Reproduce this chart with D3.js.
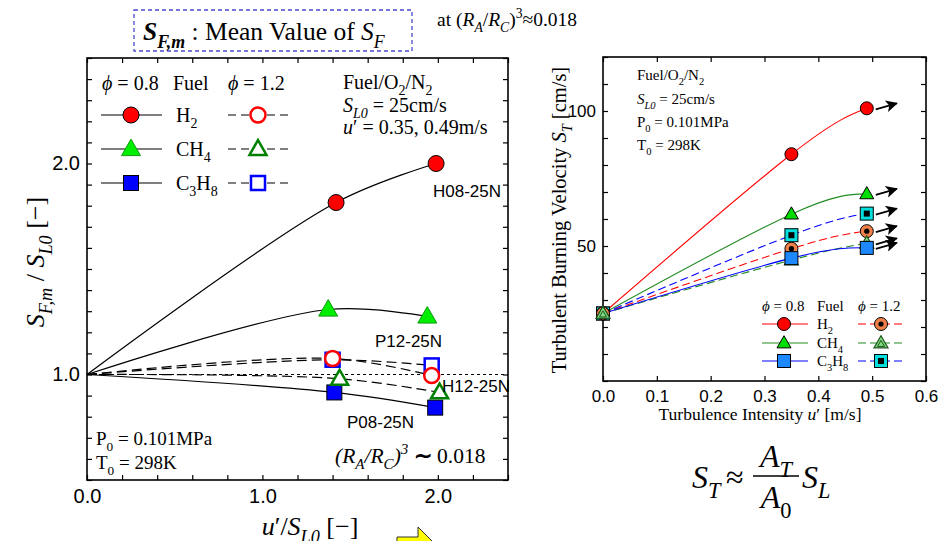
<!DOCTYPE html>
<html>
<head>
<meta charset="utf-8">
<script src="https://cdn.jsdelivr.net/npm/d3@7"></script>
<style>
  body { margin: 0; background: #fff; }
  svg { display: block; }
</style>
</head>
<body>
<svg id="chart" width="944" height="541"></svg>
<script>
// left panel: S_F,m / S_L0 vs u'/S_L0  ([u'/SL0, ratio])
const h08 = [[0, 1.0], [1.42, 1.815], [1.99, 2.0]];
const m08 = [[0, 1.0], [1.375, 1.308], [1.94, 1.275]];
const p08 = [[0, 1.0], [1.41, 0.915], [1.985, 0.843]];
const h12 = [[0, 1.0], [1.40, 1.076], [1.965, 0.995]];
const m12 = [[0, 1.0], [1.44, 0.98], [2.01, 0.915]];
const p12 = [[0, 1.0], [1.40, 1.07], [1.965, 1.043]];

// right panel: S_T [cm/s] vs u' [m/s]
const uPrime = [0, 0.35, 0.49];
const stH2_08 = [25, 84, 101];
const stCH4_08 = [25, 61.8, 69.3];
const stC3H8_08 = [25, 45.5, 49.3];
const stH2_12 = [25, 49, 55.5];
const stCH4_12 = [25, 44.8, 51];
const stC3H8_12 = [25, 54, 62];

const leftTickX = d3.range(13).map(i => i * 0.2);
const leftTickY = d3.range(21).map(i => 0.5 + i * 0.1);
const rightTickX = d3.range(7).map(i => i * 0.1);
const rightTickY = d3.range(13).map(i => i * 10);

const SERIF = "'Liberation Serif', 'Times New Roman', serif";
const SANS = "'Liberation Sans', Arial, sans-serif";

const svg = d3.select("#chart");

// texte avec indices / exposants
function rich(g, x, y, parts, size, anchor) {
    const t = g.append("text")
        .attr("x", x).attr("y", y)
        .attr("font-family", SERIF)
        .attr("font-size", size)
        .attr("text-anchor", anchor || "start");
    let shift = 0;
    parts.forEach(([s, f = ""]) => {
        const ts = t.append("tspan").text(s);
        if (f.includes("i")) ts.attr("font-style", "italic");
        if (f.includes("b")) ts.attr("font-weight", "bold");
        let target = 0;
        if (f.includes("_")) target = size * 0.3;
        if (f.includes("^")) target = -size * 0.4;
        if (target !== 0) ts.attr("font-size", size * 0.7);
        if (target !== shift) ts.attr("dy", target - shift);
        shift = target;
    });
    return t;
}

function frame(x, y, xt, yt, xf, yf, fs) {
    const [x0, x1] = x.range(), [y0, y1] = y.range();
    const gs = [
        svg.append("g").attr("transform", `translate(0,${y0})`)
            .call(d3.axisBottom(x).tickValues(xt).tickSize(-5).tickPadding(9).tickFormat(xf)),
        svg.append("g").attr("transform", `translate(0,${y1})`)
            .call(d3.axisTop(x).tickValues(xt).tickSize(-5).tickFormat("")),
        svg.append("g").attr("transform", `translate(${x0},0)`)
            .call(d3.axisLeft(y).tickValues(yt).tickSize(-5).tickPadding(7).tickFormat(yf)),
        svg.append("g").attr("transform", `translate(${x1},0)`)
            .call(d3.axisRight(y).tickValues(yt).tickSize(-5).tickFormat(""))
    ];
    gs.forEach(g => {
        g.select(".domain").remove();
        g.selectAll("line").attr("stroke", "#000").attr("stroke-width", 1.2);
        g.attr("font-family", SANS).attr("font-size", fs);
        g.selectAll("text").attr("fill", "#000");
    });
    svg.append("rect")
        .attr("x", x0).attr("y", y1)
        .attr("width", x1 - x0).attr("height", y0 - y1)
        .attr("fill", "none").attr("stroke", "#000").attr("stroke-width", 1.6);
}

// marqueurs
function marker(g, type, cx, cy, sz, fill, stroke, sw) {
    let m;
    if (type === "circle") {
        m = g.append("circle").attr("cx", cx).attr("cy", cy).attr("r", sz / 2);
    } else if (type === "square") {
        m = g.append("rect").attr("x", cx - sz / 2).attr("y", cy - sz / 2)
            .attr("width", sz).attr("height", sz);
    } else {
        const h = sz * 0.87;
        m = g.append("path")
            .attr("d", `M${cx},${cy - h * 0.6}L${cx + sz / 2},${cy + h * 0.4}L${cx - sz / 2},${cy + h * 0.4}Z`);
    }
    m.attr("fill", fill).attr("stroke", stroke).attr("stroke-width", sw);
    return m;
}

// ---------------- left panel ----------------
const xL = d3.scaleLinear().domain([0, 2.4]).range([87, 508]);
const yL = d3.scaleLinear().domain([0.5, 2.5]).range([480, 58]);

frame(xL, yL, leftTickX, leftTickY,
    d => (Math.abs(d - Math.round(d)) < 1e-6 && d < 2.3) ? d3.format(".1f")(d) : "",
    d => (Math.abs(d - 1) < 1e-6 || Math.abs(d - 2) < 1e-6) ? d3.format(".1f")(d) : "",
    20);

svg.append("line")
    .attr("x1", xL(0)).attr("x2", xL(2.4))
    .attr("y1", yL(1)).attr("y2", yL(1))
    .attr("stroke", "#000").attr("stroke-dasharray", "3,3");

const lineL = d3.line().x(d => xL(d[0])).y(d => yL(d[1])).curve(d3.curveCatmullRom.alpha(0.5));
const leftSeries = [
    { d: h08, dash: null, type: "circle", sz: 16, fill: "#ff0000", stroke: "#000", sw: 1 },
    { d: m08, dash: null, type: "triangle", sz: 19, fill: "#00ee00", stroke: "#119911", sw: 1 },
    { d: p08, dash: null, type: "square", sz: 15, fill: "#0000ff", stroke: "#000", sw: 1 },
    { d: p12, dash: "10,5", type: "square", sz: 14, fill: "#fff", stroke: "#0000ff", sw: 2.5 },
    { d: h12, dash: "10,5", type: "circle", sz: 15, fill: "#fff", stroke: "#ff0000", sw: 2.5 },
    { d: m12, dash: "10,5", type: "triangle", sz: 17, fill: "#fff", stroke: "#008000", sw: 2.5 }
];
const gL = svg.append("g");
leftSeries.forEach(s => {
    gL.append("path").attr("d", lineL(s.d))
        .attr("fill", "none").attr("stroke", "#000").attr("stroke-width", 1.2)
        .attr("stroke-dasharray", s.dash);
});
leftSeries.forEach(s => {
    s.d.slice(1).forEach(p => marker(gL, s.type, xL(p[0]), yL(p[1]), s.sz, s.fill, s.stroke, s.sw));
});

// étiquettes des cas
[["H08-25N", 433, 197], ["P12-25N", 375, 347], ["H12-25N", 442, 392], ["P08-25N", 347, 428]]
    .forEach(([t, x, y]) => svg.append("text").attr("x", x).attr("y", y)
        .attr("font-family", SANS).attr("font-size", 17).text(t));

// légende gauche
rich(svg, 102, 90, [["ϕ", "i"], [" = 0.8"]], 20);
rich(svg, 173, 90, [["Fuel"]], 20);
rich(svg, 228, 90, [["ϕ", "i"], [" = 1.2"]], 20);
const legL = [
    { y: 115, name: [["H"], ["2", "_"]], a: leftSeries[0], b: leftSeries[4] },
    { y: 149, name: [["CH"], ["4", "_"]], a: leftSeries[1], b: leftSeries[5] },
    { y: 183, name: [["C"], ["3", "_"], ["H"], ["8", "_"]], a: leftSeries[2], b: leftSeries[3] }
];
legL.forEach(r => {
    svg.append("line").attr("x1", 101).attr("x2", 162).attr("y1", r.y).attr("y2", r.y)
        .attr("stroke", "#000").attr("stroke-width", 1.2);
    svg.append("line").attr("x1", 228).attr("x2", 288).attr("y1", r.y).attr("y2", r.y)
        .attr("stroke", "#000").attr("stroke-width", 1.2).attr("stroke-dasharray", "8,5");
    marker(svg, r.a.type, 131, r.y, r.a.sz, r.a.fill, r.a.stroke, r.a.sw);
    marker(svg, r.b.type, 258, r.y, r.b.sz, r.b.fill, r.b.stroke, r.b.sw);
    rich(svg, 176, r.y + 7, r.name, 20);
});

rich(svg, 343, 89, [["Fuel/O"], ["2", "_"], ["/N"], ["2", "_"]], 20);
rich(svg, 343, 112, [["S", "i"], ["L0", "i_"], [" = 25cm/s"]], 20);
rich(svg, 343, 134, [["u", "i"], ["′ = 0.35, 0.49m/s"]], 20);
rich(svg, 96, 445, [["P"], ["0", "_"], [" = 0.101MPa"]], 19);
rich(svg, 96, 469, [["T"], ["0", "_"], [" = 298K"]], 19);
rich(svg, 335, 463, [["(R", "i"], ["A", "i_"], ["/R", "i"], ["C", "i_"], [")", "i"], ["3", "i^"], [" ∼ ", "b"], ["0.018"]], 21.5);

// titres d'axes gauche
rich(svg, 0, 0, [["S", "i"], ["F,m", "i_"], [" / "], ["S", "i"], ["L0", "i_"], [" [−]"]], 26, "middle")
    .attr("transform", "translate(44,262) rotate(-90)");
rich(svg, 310, 535, [["u", "i"], ["′/"], ["S", "i"], ["L0", "i_"], [" [−]"]], 26, "middle");

// encadré titre
svg.append("rect").attr("x", 134).attr("y", 10).attr("width", 278).attr("height", 41)
    .attr("fill", "none").attr("stroke", "#4a4ad0").attr("stroke-width", 1.3)
    .attr("stroke-dasharray", "4,3");
rich(svg, 143, 40, [["S", "bi"], ["F,m", "bi_"], [" : Mean Value of "], ["S", "i"], ["F", "i_"]], 25.5);
rich(svg, 437, 26, [["at ("], ["R", "i"], ["A", "i_"], ["/"], ["R", "i"], ["C", "i_"], [")"], ["3", "^"], ["≈0.018"]], 19.5);

// flèche jaune
svg.append("path")
    .attr("d", "M397,537L418,537L418,527L439,548L418,569L418,559L397,559Z")
    .attr("fill", "#ffff00").attr("stroke", "#333").attr("stroke-width", 1);

// ---------------- right panel ----------------
const xR = d3.scaleLinear().domain([0, 0.6]).range([603, 926]);
const yR = d3.scaleLinear().domain([0, 120]).range([381, 57]);

frame(xR, yR, rightTickX, rightTickY,
    d3.format(".1f"),
    d => (d === 50 || d === 100) ? d : "",
    17);

const rightSeries = [
    { v: stH2_12, color: "#ff0000", dash: "8,4", kind: "h12" },
    { v: stCH4_12, color: "#228b22", dash: "8,4", kind: "m12" },
    { v: stC3H8_12, color: "#0000ff", dash: "8,4", kind: "p12" },
    { v: stC3H8_08, color: "#0000ff", dash: null, kind: "p08" },
    { v: stCH4_08, color: "#228b22", dash: null, kind: "m08" },
    { v: stH2_08, color: "#ff0000", dash: null, kind: "h08" }
];
const lineR = d3.line().x((d, i) => xR(uPrime[i])).y(d => yR(d)).curve(d3.curveNatural);
const gR = svg.append("g");
rightSeries.forEach(s => {
    gR.append("path").attr("d", lineR(s.v))
        .attr("fill", "none").attr("stroke", s.color).attr("stroke-width", 1.1)
        .attr("stroke-dasharray", s.dash);
});

function rMarker(g, kind, cx, cy) {
    if (kind === "h08") marker(g, "circle", cx, cy, 13, "#ff0000", "#000", 1);
    if (kind === "m08") marker(g, "triangle", cx, cy, 14, "#00dd00", "#000", 1);
    if (kind === "p08") marker(g, "square", cx, cy, 13, "#1e88ff", "#000", 1);
    if (kind === "h12") {
        marker(g, "circle", cx, cy, 13, "#f0804a", "#000", 1);
        g.append("circle").attr("cx", cx).attr("cy", cy).attr("r", 2.6).attr("fill", "#000");
    }
    if (kind === "m12") {
        marker(g, "triangle", cx, cy, 14, "#7fdc7f", "#225522", 1.2);
        marker(g, "triangle", cx, cy + 1, 7, "none", "#225522", 1);
    }
    if (kind === "p12") {
        marker(g, "square", cx, cy, 13, "#00dede", "#000", 1);
        g.append("rect").attr("x", cx - 3).attr("y", cy - 3).attr("width", 6).attr("height", 6).attr("fill", "#000");
    }
}
["p08", "p12", "h08", "h12", "m08", "m12"].forEach(k => {
    rMarker(gR, k, xR(uPrime[0]), yR(rightSeries.find(s => s.kind === k).v[0]));
});
rightSeries.forEach(s => {
    s.v.slice(1).forEach((v, i) => rMarker(gR, s.kind, xR(uPrime[i + 1]), yR(v)));
});

// flèches noires
svg.append("defs").append("marker")
    .attr("id", "ah").attr("viewBox", "0 0 10 10").attr("refX", 9).attr("refY", 5)
    .attr("markerWidth", 15).attr("markerHeight", 12).attr("markerUnits", "userSpaceOnUse")
    .attr("orient", "auto")
    .append("path").attr("d", "M0,0L10,5L0,10L2.5,5Z").attr("fill", "#000");
rightSeries.forEach(s => {
    const x = xR(uPrime[2]), y = yR(s.v[2]);
    svg.append("line")
        .attr("x1", x + 9).attr("y1", y + 1).attr("x2", x + 30).attr("y2", y - 5)
        .attr("stroke", "#000").attr("stroke-width", 1.8).attr("marker-end", "url(#ah)");
});

// légende droite
rich(svg, 762, 311, [["ϕ", "i"], [" = 0.8"]], 15);
rich(svg, 817, 311, [["Fuel"]], 15);
rich(svg, 858, 311, [["ϕ", "i"], [" = 1.2"]], 15);
const legR = [
    { y: 324, name: [["H"], ["2", "_"]], a: "h08", b: "h12", c: "#ff0000" },
    { y: 343, name: [["CH"], ["4", "_"]], a: "m08", b: "m12", c: "#228b22" },
    { y: 361, name: [["C"], ["3", "_"], ["H"], ["8", "_"]], a: "p08", b: "p12", c: "#0000ff" }
];
legR.forEach(r => {
    svg.append("line").attr("x1", 762).attr("x2", 808).attr("y1", r.y).attr("y2", r.y)
        .attr("stroke", r.c).attr("stroke-width", 1.1);
    svg.append("line").attr("x1", 858).attr("x2", 905).attr("y1", r.y).attr("y2", r.y)
        .attr("stroke", r.c).attr("stroke-width", 1.1).attr("stroke-dasharray", "8,4");
    rMarker(svg, r.a, 784, r.y);
    rMarker(svg, r.b, 881, r.y);
    rich(svg, 817, r.y + 5, r.name, 15);
});

rich(svg, 637, 80, [["Fuel/O"], ["2", "_"], ["/N"], ["2", "_"]], 15);
rich(svg, 637, 104, [["S", "i"], ["L0", "i_"], [" = 25cm/s"]], 15);
rich(svg, 637, 127, [["P"], ["0", "_"], [" = 0.101MPa"]], 15);
rich(svg, 637, 150, [["T"], ["0", "_"], [" = 298K"]], 15);

rich(svg, 0, 0, [["Turbulent Burning Velocity    "], ["S", "i"], ["T", "i_"], [" [cm/s]"]], 20.5, "middle")
    .attr("transform", "translate(566,220) rotate(-90)");
rich(svg, 760, 420, [["Turbulence Intensity   "], ["u", "i"], ["′ [m/s]"]], 17.5, "middle");

// équation
rich(svg, 692, 488, [["S", "i"], ["T", "i_"]], 32);
rich(svg, 726, 488, [["≈"]], 32);
svg.append("line").attr("x1", 753).attr("x2", 799).attr("y1", 476).attr("y2", 476)
    .attr("stroke", "#000").attr("stroke-width", 1.3);
rich(svg, 776, 467, [["A", "i"], ["T", "i_"]], 32, "middle");
rich(svg, 776, 508, [["A", "i"], ["0", "_"]], 32, "middle");
rich(svg, 802, 488, [["S", "i"], ["L", "i_"]], 32);
</script>
</body>
</html>
